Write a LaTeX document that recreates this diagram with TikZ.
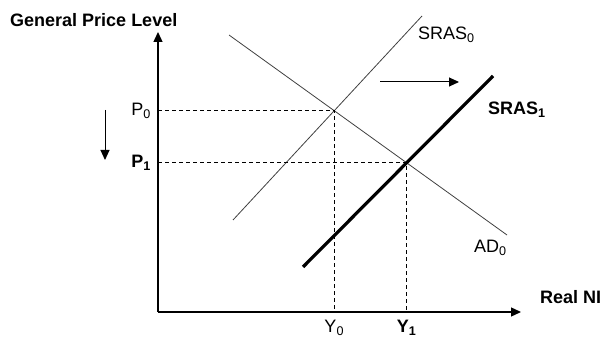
\documentclass[tikz,border=0pt]{standalone}
\usepackage{fontspec}
\setmainfont{Liberation Sans}
\usetikzlibrary{arrows.meta,intersections}

\begin{document}
\begin{tikzpicture}[x=1pt, y=1pt, every node/.style={inner sep=1pt, font=\fontsize{18}{21}\selectfont},
  axis/.style={line width=1.3pt, -{Triangle[length=10pt,width=9pt]}},
  curve/.style={line width=0.8pt, black!75},
  shiftarrow/.style={line width=1pt, -{Triangle[length=10pt,width=9pt]}},
  guide/.style={dash pattern=on 4pt off 3pt, line width=0.9pt}]
  \useasboundingbox (0,0) rectangle (604,337);
  % axes
  \coordinate (O) at (158,25);
  \coordinate (ytop) at (158,305);
  \coordinate (xend) at (521,25);
  \draw[axis] (O) -- (ytop);
  \draw[axis] (O) -- (xend);
  \node[anchor=west, font=\fontsize{18}{21}\selectfont\bfseries] (gpl) at (9,317) {General Price Level};
  \node[anchor=west, font=\fontsize{18}{21}\selectfont\bfseries] (realni) at (539,40) {Real NI};
  % curves
  \coordinate (ad0a) at (229,302);
  \coordinate (ad0b) at (507,102);
  \coordinate (sr0a) at (233,117);
  \coordinate (sr0b) at (422,321);
  \coordinate (sr1a) at (303,70);
  \coordinate (sr1b) at (493,261);
  \draw[curve, name path=ad] (ad0a) -- (ad0b);
  \draw[curve, name path=sr0] (sr0a) -- (sr0b);
  \draw[line width=3.2pt, name path=sr1] (sr1a) -- (sr1b);
  \path[name intersections={of=ad and sr0, by=E0}];
  \path[name intersections={of=ad and sr1, by=E1}];
  \node[anchor=west] (sras0) at (417,302) {SRAS\textsubscript{0}};
  \node[anchor=west, font=\fontsize{18}{21}\selectfont\bfseries] (sras1) at (487,227) {SRAS\textsubscript{1}};
  \node[anchor=west] (ad0lab) at (473,89) {AD\textsubscript{0}};
  % equilibria
  \draw[guide] (E0 -| O) -- (E0) -- (E0 |- O);
  \draw[guide] (E1 -| O) -- (E1) -- (E1 |- O);
  \node[anchor=east] (p0) at ([xshift=-6pt]E0 -| O) {P\textsubscript{0}};
  \node[anchor=east, font=\fontsize{18}{21}\selectfont\bfseries] (p1) at ([xshift=-6pt]E1 -| O) {P\textsubscript{1}};
  \node[anchor=north] (y0) at ([yshift=-7pt]E0 |- O) {Y\textsubscript{0}};
  \node[anchor=north, font=\fontsize{18}{21}\selectfont\bfseries] (y1) at ([yshift=-7pt]E1 |- O) {Y\textsubscript{1}};
  % shifts
  \coordinate (dnA) at (105,227);
  \coordinate (dnB) at (105,177);
  \coordinate (rtA) at (380,255);
  \coordinate (rtB) at (459,255);
  \draw[shiftarrow] (dnA) -- (dnB);
  \draw[shiftarrow] (rtA) -- (rtB);
\end{tikzpicture}
\end{document}
